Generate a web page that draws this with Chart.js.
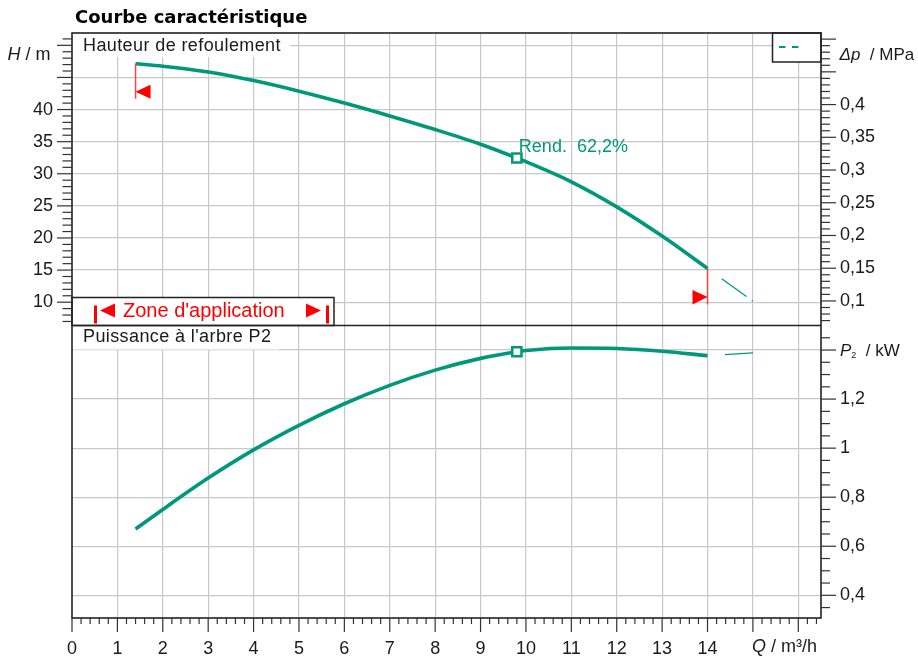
<!DOCTYPE html>
<html>
<head>
<meta charset="utf-8">
<script src="https://cdn.jsdelivr.net/npm/chart.js@4/dist/chart.umd.min.js"></script>
<style>
html,body{margin:0;padding:0;background:#fff;}
#wrap{width:918px;height:658px;position:relative;}
</style>
</head>
<body>
<div id="wrap"><canvas id="c" width="918" height="658" style="width:918px;height:658px"></canvas></div>
<script>
// ---------- data ----------
const qHead    = [1.4, 2, 3, 4, 5, 6, 7, 8, 9, 9.8, 10, 11, 12, 13, 14];
const head     = [47.13, 46.75, 45.86, 44.51, 42.86, 41.01, 39.01, 36.89, 34.59, 32.45, 31.88, 28.75, 24.85, 20.3, 15.26];
const qExt     = [14, 15];
const headExt  = [15.26, 10.16];
const qPower   = [1.4, 2, 3, 4, 5, 6, 7, 8, 9, 9.8, 10, 11, 12, 13, 14];
const power    = [0.67, 0.75, 0.878, 0.993, 1.093, 1.181, 1.256, 1.318, 1.366, 1.393, 1.398, 1.408, 1.406, 1.395, 1.377];
const powerExt = [1.377, 1.388];
const dutyQ = 9.8, dutyH = 32.45, dutyP = 1.393;
const appRange = [1.4, 14];
const xTickLabels  = [0,1,2,3,4,5,6,7,8,9,10,11,12,13,14];
const hTickLabels  = [10,15,20,25,30,35,40];
const dpTickLabels = [0.1,0.15,0.2,0.25,0.3,0.35,0.4];
const pTickLabels  = [0.4,0.6,0.8,1,1.2];
const titleText = 'Courbe caractéristique';
const headLabel = 'Hauteur de refoulement';
const powerLabel = "Puissance à l'arbre P2";
const zoneLabel = "Zone d'application";
const effLabel = 'Rend.  62,2%';

// axis ranges
const Q_MIN = 0, Q_MAX = 16.5;
const H_MIN = 6.37, H_MAX = 51.92;
const RHO_G = 0.00981; // MPa per metre
const P_MIN = 0.3075, P_MAX = 1.5;

// ---------- style ----------
const FONT = "'Liberation Sans', Arial, Helvetica, sans-serif";
const TEAL = '#00987a';
const RED = '#ff0000';
const GRID = '#c8c8c8';
const INK = '#1a1a1a';
const TICKFONT = {family: FONT, size: 18};

function fmt(v){ return (Math.round(v*100)/100).toString().replace('.', ','); }
function has(list, v){ return list.some(t => Math.abs(t - v) < 1e-6); }
const pts = (xs, ys) => xs.map((x, i) => ({x, y: ys[i]}));

function line(ctx, x1, y1, x2, y2){ ctx.beginPath(); ctx.moveTo(x1, y1); ctx.lineTo(x2, y2); ctx.stroke(); }

const decor = {
  id: 'decor',
  afterDraw(chart){
    const {ctx, chartArea: ca, scales} = chart;
    const {x, yH, yDp, yP} = scales;
    const mid = yH.bottom;
    ctx.save();

    // title
    ctx.fillStyle = '#000';
    ctx.font = "bold 18px 'DejaVu Sans', Verdana, sans-serif";
    ctx.textBaseline = 'alphabetic';
    ctx.textAlign = 'left';
    ctx.fillText(titleText, 75, 22.7);

    // white label boxes
    ctx.fillStyle = '#fff';
    ctx.fillRect(ca.left + 1, ca.top + 1, 217, 23);
    ctx.fillRect(ca.left + 1, mid + 1, 206, 23);

    // panel labels
    ctx.fillStyle = INK;
    ctx.font = '18px ' + FONT;
    ctx.letterSpacing = '0.4px';
    ctx.fillText(headLabel, ca.left + 11, ca.top + 17.5);
    ctx.fillText(powerLabel, ca.left + 11, mid + 16.5);
    ctx.letterSpacing = '0px';

    // legend box
    ctx.fillStyle = '#fff';
    ctx.fillRect(ca.right - 48.5, ca.top, 48.5, 29);
    ctx.strokeStyle = '#222'; ctx.lineWidth = 1.5;
    ctx.strokeRect(ca.right - 48.5, ca.top, 48.5, 29);
    ctx.strokeStyle = TEAL; ctx.lineWidth = 2;
    line(ctx, ca.right - 42, ca.top + 14, ca.right - 35.5, ca.top + 14);
    line(ctx, ca.right - 29, ca.top + 14, ca.right - 22.5, ca.top + 14);

    // zone d'application box
    const zx = ca.left, zy = mid - 28, zw = 262, zh = 28;
    ctx.fillStyle = '#fff';
    ctx.fillRect(zx, zy, zw, zh);
    ctx.strokeStyle = '#222'; ctx.lineWidth = 1.5;
    ctx.strokeRect(zx, zy, zw, zh);
    ctx.fillStyle = RED;
    ctx.fillRect(zx + 22, zy + 8, 3, 18);
    ctx.fillRect(zx + 254, zy + 8, 3, 18);
    ctx.beginPath(); ctx.moveTo(zx + 28, zy + 13); ctx.lineTo(zx + 43, zy + 6); ctx.lineTo(zx + 43, zy + 20); ctx.closePath(); ctx.fill();
    ctx.beginPath(); ctx.moveTo(zx + 249, zy + 13); ctx.lineTo(zx + 234, zy + 6); ctx.lineTo(zx + 234, zy + 20); ctx.closePath(); ctx.fill();
    ctx.font = '20px ' + FONT;
    ctx.fillText(zoneLabel, zx + 51, zy + 19.5);

    // application range markers
    const xa = x.getPixelForValue(appRange[0]);
    const ya = yH.getPixelForValue(head[0]);
    const xb = x.getPixelForValue(appRange[1]);
    const yb = yH.getPixelForValue(head[head.length - 1]);
    ctx.strokeStyle = '#f04848'; ctx.lineWidth = 1.5;
    line(ctx, xa, ya, xa, ya + 35);
    line(ctx, xb, yb, xb, yb + 36);
    ctx.fillStyle = RED;
    ctx.beginPath(); ctx.moveTo(xa, ya + 28); ctx.lineTo(xa + 15, ya + 21); ctx.lineTo(xa + 15, ya + 35); ctx.closePath(); ctx.fill();
    ctx.beginPath(); ctx.moveTo(xb, yb + 28.7); ctx.lineTo(xb - 15, yb + 21.7); ctx.lineTo(xb - 15, yb + 36); ctx.closePath(); ctx.fill();

    // efficiency label
    ctx.fillStyle = TEAL;
    ctx.font = '18px ' + FONT;
    ctx.fillText(effLabel, x.getPixelForValue(dutyQ) + 2, yH.getPixelForValue(dutyH) - 6.5);

    // frame and divider
    ctx.strokeStyle = '#222'; ctx.lineWidth = 1.6;
    ctx.strokeRect(ca.left, ca.top, ca.right - ca.left, ca.bottom - ca.top);
    line(ctx, ca.left, mid, ca.right, mid);

    // tick marks
    ctx.strokeStyle = '#333'; ctx.lineWidth = 1.2;
    for (let i = 0; i <= 82; i++) {
      const px = x.getPixelForValue(i / 5);
      const len = i % 5 === 0 ? 14 : 6;
      line(ctx, px, ca.bottom, px, ca.bottom + len);
    }
    for (let h = 7; h <= 51; h++) {
      const py = yH.getPixelForValue(h);
      const len = h % 5 === 0 ? 15 : 9.5;
      line(ctx, ca.left - len, py, ca.left, py);
    }
    for (let k = 7; k <= 50; k++) {
      const py = yDp.getPixelForValue(k / 100);
      const len = k % 5 === 0 ? 15 : 9;
      line(ctx, ca.right, py, ca.right + len, py);
    }
    for (let k = 7; k <= 29; k++) {
      const py = yP.getPixelForValue(k * 0.05);
      const len = k % 4 === 0 ? 15 : 9;
      line(ctx, ca.right, py, ca.right + len, py);
    }

    // axis unit labels
    ctx.fillStyle = INK;
    function unit(parts, x0, yb){
      let cx = x0;
      for (const p of parts) {
        ctx.font = p.f;
        ctx.fillText(p.t, cx, yb + (p.dy || 0));
        cx += ctx.measureText(p.t).width;
      }
    }
    unit([{t:'H', f:'italic 18px ' + FONT}, {t:' / m', f:'18px ' + FONT}], 7.5, 59.5);
    unit([{t:'Δp', f:'italic 17px ' + FONT}, {t:'  / MPa', f:'17px ' + FONT}], 839.5, 60);
    unit([{t:'P', f:'italic 17px ' + FONT}, {t:'2', f:'9px ' + FONT, dy:1.5}, {t:'  / kW', f:'17px ' + FONT}], 840, yP.getPixelForValue(1.4) + 6);
    unit([{t:'Q', f:'italic 18px ' + FONT}, {t:' / m³/h', f:'18px ' + FONT}], 752, 652);

    ctx.restore();
  }
};

const ctx = document.getElementById('c').getContext('2d');
new Chart(ctx, {
  type: 'line',
  data: {
    datasets: [
      {type: 'scatter', data: [{x: dutyQ, y: dutyH}], yAxisID: 'yH', pointStyle: 'rect', pointRadius: 6.5,
       pointBorderWidth: 2.5, pointBorderColor: TEAL, pointBackgroundColor: '#fff', order: 0},
      {type: 'scatter', data: [{x: dutyQ, y: dutyP}], yAxisID: 'yP', pointStyle: 'rect', pointRadius: 6.5,
       pointBorderWidth: 2.5, pointBorderColor: TEAL, pointBackgroundColor: '#fff', order: 0},
      {data: pts(qHead, head), yAxisID: 'yH', borderColor: TEAL, borderWidth: 3.6, pointRadius: 0,
       cubicInterpolationMode: 'monotone', fill: false, order: 1},
      {data: pts(qExt, headExt), yAxisID: 'yH', borderColor: TEAL, borderWidth: 1.2, pointRadius: 0,
       borderDash: [30.5, 6.5, 1.5, 17.5], borderDashOffset: 38.5, fill: false, order: 1},
      {data: pts(qPower, power), yAxisID: 'yP', borderColor: TEAL, borderWidth: 3.6, pointRadius: 0,
       cubicInterpolationMode: 'monotone', fill: false, order: 1},
      {data: pts(qExt, powerExt), yAxisID: 'yP', borderColor: TEAL, borderWidth: 1.2, pointRadius: 0,
       borderDash: [30.5, 6.5, 1.5, 17.5], borderDashOffset: 38.5, fill: false, order: 1}
    ]
  },
  options: {
    responsive: false,
    devicePixelRatio: 1,
    animation: false,
    layout: {padding: {top: 33, left: 0, right: 0, bottom: 0}},
    plugins: {legend: {display: false}, tooltip: {enabled: false}, title: {display: false}},
    scales: {
      x: {
        type: 'linear', position: 'bottom', min: Q_MIN, max: Q_MAX,
        ticks: {stepSize: 1, includeBounds: false, maxTicksLimit: 30, autoSkip: false, maxRotation: 0,
                font: TICKFONT, color: INK, padding: 6,
                callback: v => has(xTickLabels, v) ? String(v) : ''},
        grid: {color: c => (c.tick && c.tick.value === 0) ? 'rgba(0,0,0,0)' : GRID, lineWidth: 1.2,
               tickLength: 14, tickColor: 'rgba(0,0,0,0)'},
        border: {display: false},
        afterFit: s => { s.height = 40; }
      },
      yH: {
        type: 'linear', position: 'left', stack: 'L', stackWeight: 1, weight: 2,
        min: H_MIN, max: H_MAX,
        ticks: {stepSize: 5, includeBounds: false, maxTicksLimit: 12, autoSkip: false, font: TICKFONT, color: INK, padding: 4,
                callback: v => has(hTickLabels, v) ? String(v) : ''},
        grid: {color: GRID, lineWidth: 1.2, tickLength: 15, tickColor: 'rgba(0,0,0,0)'},
        border: {display: false},
        afterFit: s => { s.width = 72; }
      },
      yLB: {
        type: 'linear', position: 'left', stack: 'L', stackWeight: 1, weight: 1,
        min: 0, max: 1,
        ticks: {display: false}, grid: {display: false}, border: {display: false},
        afterFit: s => { s.width = 72; }
      },
      yDp: {
        type: 'linear', position: 'right', stack: 'R', stackWeight: 1, weight: 1,
        min: H_MIN * RHO_G, max: H_MAX * RHO_G,
        ticks: {stepSize: 0.05, includeBounds: false, maxTicksLimit: 12, autoSkip: false, font: TICKFONT, color: INK, padding: 4,
                callback: v => has(dpTickLabels, v) ? fmt(v) : ''},
        grid: {drawOnChartArea: false, tickLength: 15, tickColor: 'rgba(0,0,0,0)'},
        border: {display: false},
        afterFit: s => { s.width = 97; }
      },
      yP: {
        type: 'linear', position: 'right', stack: 'R', stackWeight: 1, weight: 2,
        min: P_MIN, max: P_MAX,
        ticks: {stepSize: 0.2, includeBounds: false, maxTicksLimit: 10, autoSkip: false, font: TICKFONT, color: INK, padding: 4,
                callback: v => has(pTickLabels, v) ? fmt(v) : ''},
        grid: {color: GRID, lineWidth: 1.2, tickLength: 15, tickColor: 'rgba(0,0,0,0)'},
        border: {display: false},
        afterFit: s => { s.width = 97; }
      }
    }
  },
  plugins: [decor]
});
</script>
</body>
</html>
